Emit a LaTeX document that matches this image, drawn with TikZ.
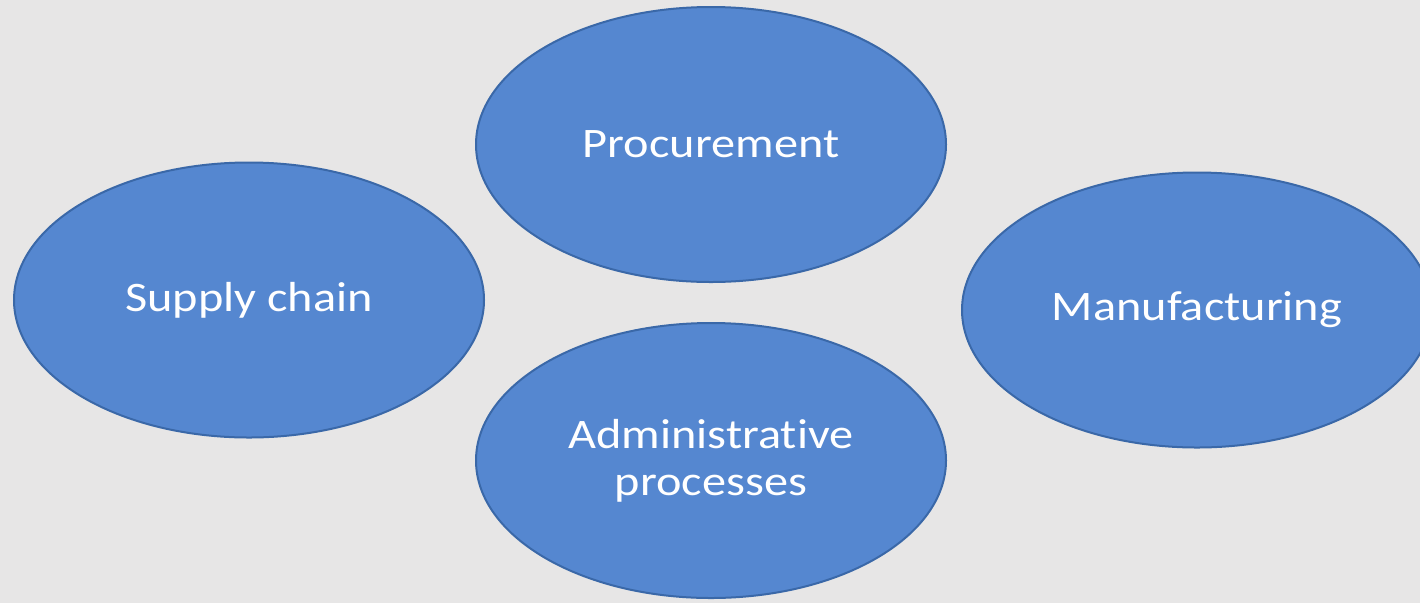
\documentclass[tikz,border=0pt]{standalone}
\usepackage{fontspec}
\setmainfont{Carlito}[FakeStretch=1.15, Ligatures=NoCommon]
\usetikzlibrary{shapes.geometric}
\definecolor{bgc}{HTML}{E7E6E6}
\definecolor{fillc}{HTML}{5587D0}
\definecolor{linec}{HTML}{3A68A8}
\tikzset{
  blob/.style={ellipse, draw=linec, line width=2pt, fill=fillc, text=white,
    minimum width=470pt, minimum height=275pt, inner sep=0pt,
    font=\fontsize{42}{47}\selectfont, align=center}
}
\begin{document}
\begin{tikzpicture}[x=1pt,y=-1pt]
\fill[bgc] (0,0) rectangle (1420,603);
\useasboundingbox (0,0) rectangle (1420,603);
\clip (0,0) rectangle (1420,603);
\node[blob] (proc) at (711,144.5) {Procurement};
\node[blob] (supply) at (249,300) {Supply chain};
\node[blob] (manu) at (1197,310) {Manufacturing};
\node[blob] (admin) at (711,460.5) {Administrative\\processes};
\end{tikzpicture}
\end{document}
